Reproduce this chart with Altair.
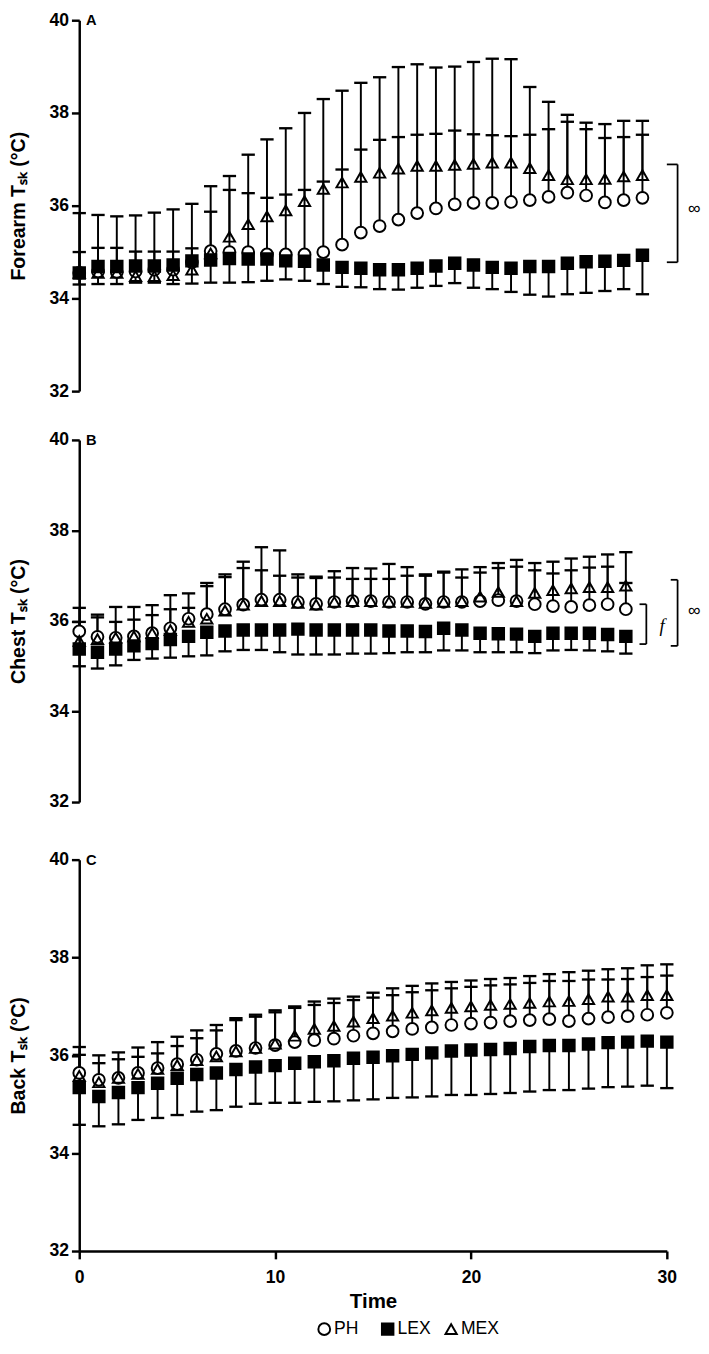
import altair as alt
import pandas as pd

FONT = "Liberation Sans"
T = list(range(31))

# ---------------- Panel A (Forearm) ----------------
A_ph = [34.55, 34.58, 34.57, 34.58, 34.62, 34.62, 34.78, 35.02, 35.0, 35.0, 34.95, 34.95, 34.95, 35.0, 35.16,
        35.42, 35.56, 35.70, 35.84, 35.94, 36.03, 36.06, 36.06, 36.08, 36.12, 36.19, 36.28, 36.22, 36.07, 36.12, 36.17]
A_ph_hi = [35.0, 35.09, 35.09, 35.01, 35.01, 35.01, 35.08, 35.87, 36.34, 36.27, 36.17, 36.24, 36.34, 36.52, 36.78,
           37.21, 37.42, 37.48, 37.53, 37.55, 37.62, 37.54, 37.52, 37.50, 37.53, 37.65, 37.81, 37.65, 37.46, 37.48, 37.53]
A_lex = [34.55, 34.69, 34.69, 34.70, 34.70, 34.72, 34.81, 34.83, 34.86, 34.85, 34.85, 34.81, 34.80, 34.72, 34.67,
         34.65, 34.62, 34.62, 34.65, 34.70, 34.76, 34.72, 34.67, 34.65, 34.69, 34.69, 34.76, 34.79, 34.80, 34.82, 34.93]
A_lex_lo = [34.30, 34.31, 34.31, 34.34, 34.34, 34.31, 34.32, 34.34, 34.34, 34.35, 34.38, 34.41, 34.38, 34.31, 34.25,
            34.24, 34.20, 34.19, 34.23, 34.27, 34.33, 34.23, 34.20, 34.14, 34.08, 34.04, 34.09, 34.12, 34.16, 34.20, 34.09]
A_mex = [34.55, 34.55, 34.55, 34.48, 34.48, 34.50, 34.62, 34.97, 35.33, 35.60, 35.77, 35.90, 36.10, 36.36, 36.50,
         36.62, 36.71, 36.80, 36.86, 36.86, 36.88, 36.90, 36.93, 36.93, 36.81, 36.66, 36.57, 36.57, 36.58, 36.63, 36.66]
A_mex_hi = [35.84, 35.80, 35.77, 35.79, 35.85, 35.92, 36.04, 36.42, 36.64, 37.10, 37.43, 37.67, 38.00, 38.30, 38.48,
            38.65, 38.77, 38.99, 39.05, 38.98, 39.00, 39.10, 39.17, 39.16, 38.56, 38.24, 37.96, 37.79, 37.76, 37.83, 37.83]

# ---------------- Panel B (Chest) ----------------
B_ph = [35.77, 35.65, 35.63, 35.66, 35.73, 35.84, 36.05, 36.15, 36.26, 36.36, 36.47, 36.47, 36.42, 36.38, 36.42,
        36.44, 36.44, 36.42, 36.42, 36.38, 36.42, 36.42, 36.44, 36.46, 36.44, 36.37, 36.33, 36.31, 36.35, 36.37, 36.26]
B_ph_hi = [35.98, 36.08, 35.98, 36.03, 36.13, 36.26, 36.29, 36.77, 36.97, 37.17, 37.12, 37.00, 36.96, 36.95, 36.96,
           36.93, 36.93, 36.93, 37.00, 37.00, 37.07, 36.96, 37.07, 37.17, 37.20, 37.12, 37.05, 37.12, 37.18, 37.20, 36.84]
B_lex = [35.38, 35.31, 35.38, 35.45, 35.50, 35.59, 35.66, 35.75, 35.78, 35.80, 35.80, 35.80, 35.82, 35.80, 35.80,
         35.80, 35.80, 35.78, 35.78, 35.77, 35.84, 35.80, 35.73, 35.72, 35.71, 35.66, 35.73, 35.73, 35.73, 35.70, 35.66]
B_lex_lo = [35.00, 34.95, 35.02, 35.14, 35.17, 35.19, 35.22, 35.24, 35.33, 35.36, 35.36, 35.31, 35.26, 35.26, 35.26,
            35.28, 35.28, 35.29, 35.31, 35.31, 35.35, 35.35, 35.31, 35.31, 35.31, 35.29, 35.35, 35.36, 35.35, 35.33, 35.28]
B_mex = [35.56, 35.60, 35.63, 35.66, 35.73, 35.80, 35.98, 36.05, 36.23, 36.36, 36.44, 36.44, 36.40, 36.36, 36.42,
         36.44, 36.44, 36.42, 36.42, 36.40, 36.42, 36.44, 36.54, 36.64, 36.44, 36.62, 36.68, 36.72, 36.75, 36.75, 36.78]
B_mex_hi = [36.29, 36.14, 36.31, 36.31, 36.35, 36.57, 36.61, 36.84, 37.03, 37.31, 37.63, 37.56, 37.03, 36.98, 37.10,
            37.17, 37.16, 37.26, 37.19, 37.03, 37.09, 37.14, 37.19, 37.28, 37.35, 37.28, 37.31, 37.38, 37.42, 37.47, 37.52]

# ---------------- Panel C (Back) ----------------
C_ph = [35.64, 35.50, 35.54, 35.64, 35.74, 35.82, 35.91, 36.03, 36.09, 36.15, 36.21, 36.27, 36.31, 36.34, 36.40,
        36.45, 36.49, 36.54, 36.57, 36.62, 36.65, 36.67, 36.70, 36.72, 36.74, 36.70, 36.75, 36.78, 36.80, 36.83, 36.87]
C_ph_hi = [36.01, 35.84, 35.92, 35.97, 36.04, 36.19, 36.35, 36.51, 36.72, 36.79, 36.88, 36.97, 37.03, 37.07, 37.13,
           37.18, 37.23, 37.29, 37.33, 37.37, 37.40, 37.43, 37.45, 37.48, 37.52, 37.52, 37.55, 37.55, 37.56, 37.60, 37.63]
C_lex = [35.34, 35.16, 35.24, 35.34, 35.43, 35.53, 35.61, 35.64, 35.71, 35.76, 35.79, 35.84, 35.87, 35.89, 35.94,
         35.96, 35.99, 36.02, 36.05, 36.09, 36.11, 36.12, 36.14, 36.18, 36.20, 36.20, 36.23, 36.26, 36.27, 36.29, 36.27]
C_lex_lo = [34.58, 34.55, 34.59, 34.68, 34.72, 34.78, 34.85, 34.88, 34.95, 35.01, 35.03, 35.03, 35.05, 35.06, 35.08,
            35.10, 35.13, 35.14, 35.16, 35.19, 35.19, 35.21, 35.23, 35.26, 35.29, 35.29, 35.32, 35.35, 35.36, 35.38, 35.33]
C_mex = [35.58, 35.45, 35.54, 35.62, 35.72, 35.80, 35.90, 35.98, 36.08, 36.15, 36.24, 36.40, 36.54, 36.60, 36.69,
         36.76, 36.81, 36.87, 36.92, 36.97, 37.00, 37.03, 37.05, 37.07, 37.10, 37.11, 37.15, 37.20, 37.20, 37.23, 37.23]
C_mex_hi = [36.17, 36.00, 36.06, 36.16, 36.27, 36.38, 36.51, 36.62, 36.76, 36.83, 36.92, 37.00, 37.10, 37.16, 37.20,
            37.28, 37.37, 37.42, 37.47, 37.50, 37.53, 37.56, 37.58, 37.62, 37.66, 37.70, 37.73, 37.76, 37.78, 37.84, 37.86]

SERIES = ["PH", "LEX", "MEX"]
Y_TICKS = [32, 34, 36, 38, 40]
X_TICKS = [0, 10, 20, 30]

SHAPE_SCALE = alt.Scale(domain=SERIES, range=["circle", "square", "triangle-up"])
FILL_SCALE = alt.Scale(domain=SERIES, range=["white", "black", "transparent"])
SIZE_SCALE = alt.Scale(domain=SERIES, range=[145, 132, 215])


def build_panel(ph, ph_hi, lex, lex_lo, mex, mex_hi, width, height, ytitle, letter,
                show_x, brackets):
    pts = pd.DataFrame({
        "t": T * 3,
        "value": ph + lex + mex,
        "series": ["PH"] * 31 + ["LEX"] * 31 + ["MEX"] * 31,
    })
    err = pd.DataFrame({
        "t": T * 3,
        "mean": ph + lex + mex,
        "bound": ph_hi + lex_lo + mex_hi,
    })
    xaxis = (alt.Axis(values=X_TICKS, format="d", title="Time", titleFontSize=21, titleFont=FONT,
                      titleFontWeight="bold", titleColor="black", titlePadding=5,
                      labelFontSize=18, labelFont=FONT, labelFontWeight="bold", labelColor="black",
                      labelFlush=False, labelPadding=10, domainColor="black", domainWidth=2.5,
                      tickColor="black", tickWidth=2.5, tickSize=8, grid=False)
             if show_x else None)
    x = alt.X("t:Q", scale=alt.Scale(domain=[0, 30], nice=False), axis=xaxis)
    yaxis = alt.Axis(values=Y_TICKS, title=ytitle, titleFontSize=20, titleFont=FONT,
                     titleFontWeight="bold", titleColor="black", titlePadding=21,
                     labelFontSize=18, labelFont=FONT, labelFontWeight="bold", labelColor="black",
                     labelFlush=False, labelPadding=3, domainColor="black", domainWidth=2.5,
                     tickColor="black", tickWidth=2.5, tickSize=8, grid=False)
    y = alt.Y("mean:Q", scale=alt.Scale(domain=[32, 40], nice=False, zero=False), axis=yaxis)

    rules = alt.Chart(err).mark_rule(color="black", strokeWidth=2).encode(
        x=x, y=y, y2="bound:Q")
    caps = alt.Chart(err).mark_point(shape="M-1,0L1,0", size=185, filled=False, stroke="black",
                                     strokeWidth=2.4, opacity=1).encode(
        x="t:Q", y="bound:Q")
    points = alt.Chart(pts).mark_point(filled=True, stroke="black", strokeWidth=2, opacity=1).encode(
        x="t:Q", y="value:Q",
        shape=alt.Shape("series:N", scale=SHAPE_SCALE, legend=None),
        fill=alt.Fill("series:N", scale=FILL_SCALE, legend=None),
        size=alt.Size("series:N", scale=SIZE_SCALE, legend=None),
    )
    one = pd.DataFrame({"k": [0]})
    letter_mark = alt.Chart(one).mark_text(align="left", baseline="middle", font=FONT, fontSize=15,
                                           fontWeight="bold", color="black").encode(
        x=alt.value(7), y=alt.value(0), text=alt.value(letter))
    layers = [rules, caps, points, letter_mark]
    for (xpix, top, bottom, arm, label, lx, ly, lfont, lstyle, lsize) in brackets:
        layers.append(alt.Chart(one).mark_rule(color="black", strokeWidth=1.8).encode(
            x=alt.value(xpix), y=alt.datum(top), y2=alt.datum(bottom)))
        layers.append(alt.Chart(one).mark_rule(color="black", strokeWidth=1.8).encode(
            x=alt.value(xpix - arm), x2=alt.value(xpix), y=alt.datum(top)))
        layers.append(alt.Chart(one).mark_rule(color="black", strokeWidth=1.8).encode(
            x=alt.value(xpix - arm), x2=alt.value(xpix), y=alt.datum(bottom)))
        layers.append(alt.Chart(one).mark_text(font=lfont, fontStyle=lstyle, fontSize=lsize, color="black",
                                               align="center", baseline="middle").encode(
            x=alt.value(lx), y=alt.datum(ly), text=alt.value(label)))
    return alt.layer(*layers).properties(width=width, height=height)


panelA = build_panel(A_ph, A_ph_hi, A_lex, A_lex_lo, A_mex, A_mex_hi, 577, 380,
                     "Forearm T\u209b\u2096 (°C)", "A", False,
                     [(613, 36.89, 34.78, 11, "\u221e", 630, 35.93, FONT, "normal", 18)])
panelB = build_panel(B_ph, B_ph_hi, B_lex, B_lex_lo, B_mex, B_mex_hi, 560, 371,
                     "Chest T\u209b\u2096 (°C)", "B", False,
                     [(581, 36.37, 35.49, 7, "f", 597, 35.88, "Liberation Serif", "italic", 19),
                      (613, 36.91, 35.45, 7, "\u221e", 630, 36.21, FONT, "normal", 18)])
panelC = build_panel(C_ph, C_ph_hi, C_lex, C_lex_lo, C_mex, C_mex_hi, 602, 401,
                     "Back T\u209b\u2096 (°C)", "C", True, [])

# ---------------- legend row ----------------
leg_df = pd.DataFrame({"series": SERIES})
leg_x = alt.X("series:N", scale=alt.Scale(type="point", domain=SERIES, range=[251, 381], padding=0), axis=None)
leg_pts = alt.Chart(leg_df).mark_point(filled=True, stroke="black", strokeWidth=2, opacity=1).encode(
    x=leg_x, y=alt.value(9),
    shape=alt.Shape("series:N", scale=SHAPE_SCALE, legend=None),
    fill=alt.Fill("series:N", scale=FILL_SCALE, legend=None),
    size=alt.Size("series:N", scale=SIZE_SCALE, legend=None),
)
leg_txt = alt.Chart(leg_df).mark_text(align="left", baseline="middle", dx=10, font=FONT, fontSize=18,
                                      color="black").encode(
    x=leg_x, y=alt.value(9), text="series:N")
legend_row = alt.layer(leg_pts, leg_txt).properties(width=602, height=18)

top = alt.vconcat(panelA, panelB, spacing=32)
bottom = alt.vconcat(panelC, legend_row, spacing=7)
chart = (
    alt.vconcat(top, bottom, spacing=41)
    .resolve_scale(shape="independent", fill="independent", size="independent")
    .properties(padding={"top": -13, "left": 0, "right": 0, "bottom": 0})
    .configure(background="white")
    .configure_view(strokeWidth=0, stroke="transparent")
)

chart.save("out.html", embed_options={"renderer": "svg", "actions": False})
